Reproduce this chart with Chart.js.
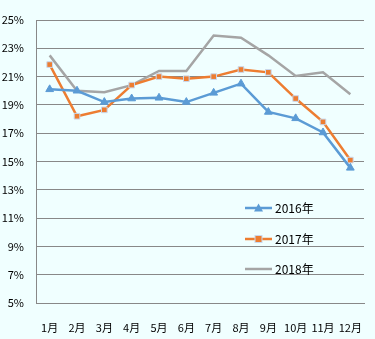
<!DOCTYPE html>
<html>
<head>
<meta charset="utf-8">
<script src="https://cdn.jsdelivr.net/npm/chart.js@4/dist/chart.umd.min.js"></script>
<style>
  html, body { margin: 0; padding: 0; background: #F0FFFF; }
  #wrap { width: 375px; height: 339px; }
</style>
</head>
<body>
<div id="wrap"><canvas id="c" width="375" height="339"></canvas></div>
<script>
const months = ['1月','2月','3月','4月','5月','6月','7月','8月','9月','10月','11月','12月'];
const seriesNames = ['2016年', '2017年', '2018年'];
const y2016 = [20.1, 20.0, 19.2, 19.45, 19.5, 19.2, 19.85, 20.5, 18.5, 18.05, 17.05, 14.55];
const y2017 = [21.85, 18.2, 18.65, 20.4, 21.0, 20.85, 21.0, 21.5, 21.3, 19.45, 17.8, 15.1];
const y2018 = [22.5, 20.0, 19.9, 20.4, 21.4, 21.4, 23.9, 23.75, 22.5, 21.05, 21.3, 19.75];
const yTicks = [5, 7, 9, 11, 13, 15, 17, 19, 21, 23, 25];

const FONT = '"Noto Sans CJK JP", "DejaVu Sans", sans-serif';
const colors = ['#5B9BD5', '#ED7D31', '#A5A5A5'];

// legend drawn inside the plot area, like the original
const innerLegend = {
  id: 'innerLegend',
  afterDraw(chart) {
    const ctx = chart.ctx;
    const rows = [208, 239, 269];
    ctx.save();
    chart.data.datasets.forEach((ds, i) => {
      const y = rows[i];
      ctx.strokeStyle = ds.borderColor;
      ctx.lineWidth = 2.5;
      ctx.beginPath();
      ctx.moveTo(245, y);
      ctx.lineTo(272, y);
      ctx.stroke();
      if (ds.pointStyle === 'triangle') {
        ctx.fillStyle = ds.borderColor;
        ctx.beginPath();
        ctx.moveTo(258.5, y - 4.5);
        ctx.lineTo(263, y + 3.5);
        ctx.lineTo(254, y + 3.5);
        ctx.closePath();
        ctx.fill();
      } else if (ds.pointStyle === 'rect') {
        ctx.fillStyle = ds.borderColor;
        ctx.fillRect(255, y - 3.5, 7, 7);
        ctx.strokeStyle = '#C9D9EE';
        ctx.lineWidth = 1;
        ctx.strokeRect(255, y - 3.5, 7, 7);
      }
      ctx.fillStyle = '#000';
      ctx.font = '12px ' + FONT;
      ctx.textBaseline = 'middle';
      ctx.textAlign = 'left';
      ctx.fillText(ds.label, 275, y);
    });
    ctx.restore();
  }
};

new Chart(document.getElementById('c'), {
  type: 'line',
  data: {
    labels: months,
    datasets: [
      {label: seriesNames[0], data: y2016, borderColor: colors[0], backgroundColor: colors[0],
       pointStyle: 'triangle', pointRadius: 4.5, pointBorderColor: colors[0], pointBorderWidth: 1, borderWidth: 2.5},
      {label: seriesNames[1], data: y2017, borderColor: colors[1], backgroundColor: colors[1],
       pointStyle: 'rect', pointRadius: 4, pointBorderColor: '#C9D9EE', pointBorderWidth: 1, borderWidth: 2.5},
      {label: seriesNames[2], data: y2018, borderColor: colors[2], backgroundColor: colors[2],
       pointStyle: false, pointRadius: 0, borderWidth: 2.5}
    ]
  },
  options: {
    responsive: false,
    animation: false,
    layout: {padding: {top: 20, right: 11, left: 0, bottom: 0}},
    plugins: {legend: {display: false}, tooltip: {enabled: false}},
    elements: {line: {tension: 0}},
    scales: {
      x: {
        offset: true,
        grid: {display: false},
        border: {display: true, color: '#888', width: 1},
        ticks: {color: '#000', font: {family: FONT, size: 11}, padding: 10, maxRotation: 0, autoSkip: false},
        afterFit: s => { s.height = 36; }
      },
      y: {
        min: 5, max: 25,
        afterBuildTicks: s => { s.ticks = yTicks.map(v => ({value: v})); },
        grid: {color: '#888', lineWidth: 1, drawTicks: false},
        border: {display: true, color: '#888', width: 1},
        ticks: {color: '#000', font: {family: FONT, size: 11}, padding: 12, callback: v => v + '%'},
        afterFit: s => { s.width = 36; }
      }
    }
  },
  plugins: [innerLegend]
});
</script>
</body>
</html>
